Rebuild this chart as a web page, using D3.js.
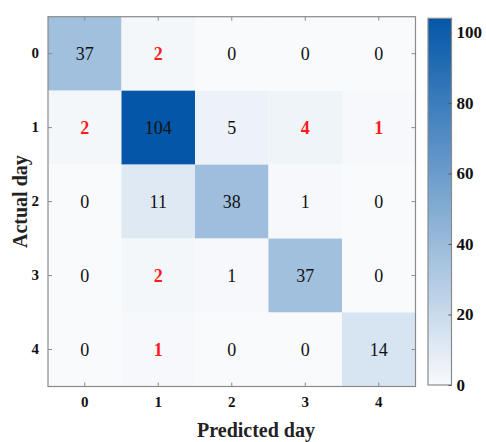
<!DOCTYPE html>
<html><head><meta charset="utf-8">
<script src="https://cdn.jsdelivr.net/npm/d3@7"></script>
<style>body{margin:0;background:#fff}svg{display:block}</style>
</head><body>
<svg id="c" width="486" height="442"></svg>
<script>
const actualDays = ["0","1","2","3","4"];
const predictedDays = ["0","1","2","3","4"];
const matrix = [
  [37, 2, 0, 0, 0],
  [2, 104, 5, 4, 1],
  [0, 11, 38, 1, 0],
  [0, 2, 1, 37, 0],
  [0, 1, 0, 0, 14]
];
// cells whose count is printed in red
const redCells = [[0,1],[1,0],[1,3],[1,4],[3,1],[4,1]];
const colorTicks = [0, 20, 40, 60, 80, 100];
const colorMax = 104;

const svg = d3.select("#c");
const font = "'Liberation Serif','Times New Roman',serif";
const L = 48, R = 415.5, T = 16.7, B = 386.5;
const x = d3.scaleBand().domain(predictedDays).range([L, R]);
const y = d3.scaleBand().domain(actualDays).range([T, B]);
const color = d3.scaleLinear().domain([0, colorMax]).range(["#f8fafc", "#0457a8"]).interpolate(d3.interpolateRgb);

const cells = [];
matrix.forEach((row, i) => row.forEach((v, j) => cells.push({i, j, v})));
const isRed = (i, j) => redCells.some(c => c[0] === i && c[1] === j);

svg.append("g").selectAll("rect").data(cells).join("rect")
  .attr("x", d => x(predictedDays[d.j])).attr("y", d => y(actualDays[d.i]))
  .attr("width", x.bandwidth()).attr("height", y.bandwidth())
  .attr("fill", d => color(d.v));

svg.append("g").selectAll("text").data(cells).join("text")
  .attr("x", d => x(predictedDays[d.j]) + x.bandwidth()/2)
  .attr("y", d => y(actualDays[d.i]) + y.bandwidth()/2)
  .attr("dy", "0.35em").attr("text-anchor", "middle")
  .attr("font-family", font).attr("font-size", 18)
  .attr("font-weight", d => isRed(d.i, d.j) ? "bold" : "normal")
  .attr("fill", d => isRed(d.i, d.j) ? "#ff1a1a" : "#111")
  .text(d => d.v);

// frame
svg.append("rect").attr("x", L).attr("y", T).attr("width", R - L).attr("height", B - T)
  .attr("fill", "none").attr("stroke", "#8a8a8a").attr("stroke-width", 1.2);

// axes with inward ticks
const tk = 4;
const gx = svg.append("g").attr("transform", `translate(0,${B})`)
  .call(d3.axisBottom(x).tickSize(-tk).tickPadding(10));
const gxt = svg.append("g").attr("transform", `translate(0,${T})`)
  .call(d3.axisTop(x).tickSize(-tk).tickFormat(""));
const gy = svg.append("g").attr("transform", `translate(${L},0)`)
  .call(d3.axisLeft(y).tickSize(-tk).tickPadding(9));
const gyr = svg.append("g").attr("transform", `translate(${R},0)`)
  .call(d3.axisRight(y).tickSize(-tk).tickFormat(""));
[gx, gxt, gy, gyr].forEach(g => {
  g.select(".domain").remove();
  g.selectAll(".tick line").attr("stroke", "#8a8a8a");
  g.selectAll("text").attr("font-family", font).attr("font-size", 15)
    .attr("font-weight", "bold").attr("fill", "#111");
});

// axis titles
svg.append("text").attr("x", 256).attr("y", 437).attr("text-anchor", "middle")
  .attr("font-family", font).attr("font-size", 20).attr("font-weight", "bold")
  .attr("fill", "#222").text("Predicted day");
svg.append("text").attr("transform", `translate(27,${(T + B)/2}) rotate(-90)`)
  .attr("text-anchor", "middle")
  .attr("font-family", font).attr("font-size", 20).attr("font-weight", "bold")
  .attr("fill", "#222").text("Actual day");

// colorbar
const cbL = 428, cbR = 451.5, cbT = 18.3, cbB = 385;
const cy = d3.scaleLinear().domain([0, colorMax]).range([cbB, cbT]);
const defs = svg.append("defs");
const grad = defs.append("linearGradient").attr("id", "cbg")
  .attr("x1", 0).attr("y1", 1).attr("x2", 0).attr("y2", 0);
d3.range(0, 1.0001, 0.1).forEach(t => grad.append("stop")
  .attr("offset", t).attr("stop-color", color(t * colorMax)));
svg.append("rect").attr("x", cbL).attr("y", cbT).attr("width", cbR - cbL).attr("height", cbB - cbT)
  .attr("fill", "url(#cbg)").attr("stroke", "#8a8a8a").attr("stroke-width", 1.2);
const gc = svg.append("g").attr("transform", `translate(${cbR},0)`)
  .call(d3.axisRight(cy).tickValues(colorTicks).tickSize(-3).tickPadding(5));
gc.select(".domain").remove();
gc.selectAll(".tick line").attr("stroke", "#555");
gc.selectAll("text").attr("font-family", font).attr("font-size", 17)
  .attr("font-weight", "bold").attr("fill", "#111");
</script>
</body></html>
